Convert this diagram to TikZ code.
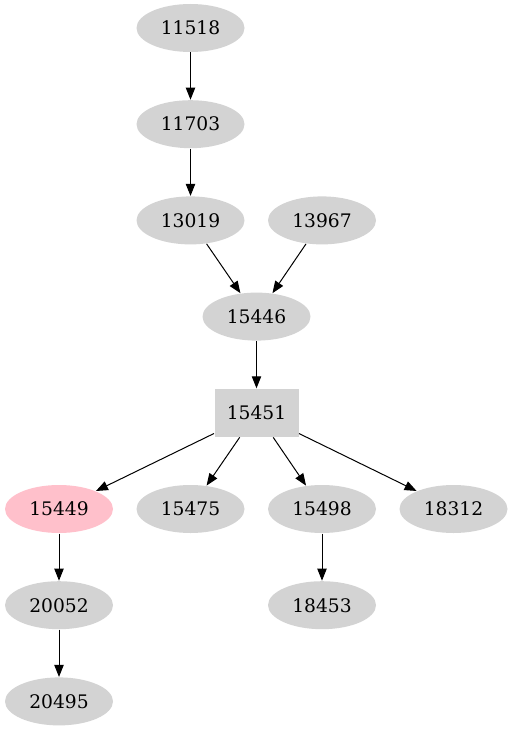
\documentclass[tikz,border=0pt]{standalone}
\usepackage{fontspec}
\setmainfont{DejaVu Serif}
\usetikzlibrary{shapes.geometric,arrows.meta}

\definecolor{nodegray}{RGB}{211,211,211}
\definecolor{nodepink}{RGB}{255,192,203}

\tikzset{every picture/.style={line width=0.75pt}}
\tikzset{
  idnode/.style={ellipse, fill=nodegray, inner sep=0pt, minimum width=81pt, minimum height=36pt, font=\fontsize{14pt}{16pt}\selectfont},
  idbox/.style={rectangle, fill=nodegray, inner sep=0pt, minimum width=63pt, minimum height=36pt, font=\fontsize{14pt}{16pt}\selectfont},
  edge/.style={-{Triangle[length=9pt,width=7pt]}, black}
}

\begin{document}
\begin{tikzpicture}[x=0.75pt,y=0.75pt,yscale=-1,xscale=1]
\useasboundingbox (0,0) rectangle (514,731);

% Nodes
\node [idnode] (n11518) at (190.5,28) {11518};
\node [idnode] (n11703) at (190.5,124.2) {11703};
\node [idnode] (n13019) at (190.5,220.4) {13019};
\node [idnode] (n13967) at (322,220.4) {13967};
\node [idnode] (n15446) at (256.5,316.6) {15446};
\node [idbox] (n15451) at (256.5,412.8) {15451};
\node [idnode, fill=nodepink] (n15449) at (59,509) {15449};
\node [idnode] (n15475) at (190.5,509) {15475};
\node [idnode] (n15498) at (322,509) {15498};
\node [idnode] (n18312) at (453.5,509) {18312};
\node [idnode] (n20052) at (59,605.2) {20052};
\node [idnode] (n18453) at (322,605.2) {18453};
\node [idnode] (n20495) at (59,701.4) {20495};

% Edges
\draw [edge] (n11518) -- (n11703);
\draw [edge] (n11703) -- (n13019);
\draw [edge] (n13019) -- (n15446);
\draw [edge] (n13967) -- (n15446);
\draw [edge] (n15446) -- (n15451);
\draw [edge] (n15451) -- (n15449);
\draw [edge] (n15451) -- (n15475);
\draw [edge] (n15451) -- (n15498);
\draw [edge] (n15451) -- (n18312);
\draw [edge] (n15449) -- (n20052);
\draw [edge] (n15498) -- (n18453);
\draw [edge] (n20052) -- (n20495);

\end{tikzpicture}
\end{document}
